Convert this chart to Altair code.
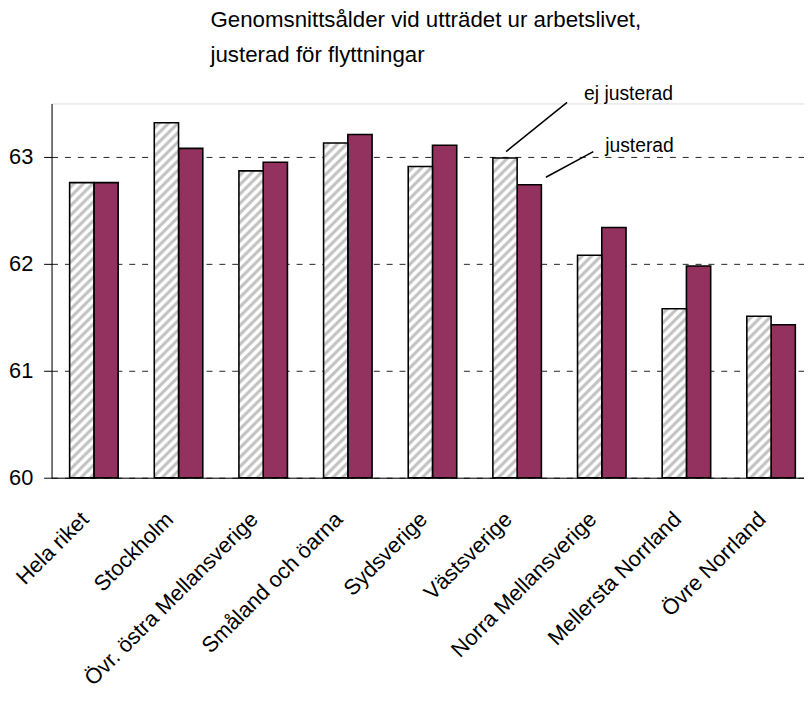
import math
import altair as alt
import pandas as pd

# ---------------- data ----------------
regions = [
    "Hela riket", "Stockholm", "Övr. östra Mellansverige", "Småland och öarna",
    "Sydsverige", "Västsverige", "Norra Mellansverige", "Mellersta Norrland",
    "Övre Norrland",
]
series_names = ["ej justerad", "justerad"]
ej_justerad = [62.76, 63.32, 62.87, 63.13, 62.91, 62.99, 62.08, 61.58, 61.51]
justerad = [62.76, 63.08, 62.95, 63.21, 63.11, 62.74, 62.34, 61.98, 61.43]
y_ticks = [60, 61, 62, 63]
y_domain = [60, 63.5]

title_lines = ["Genomsnittsålder vid utträdet ur arbetslivet,", "justerad för flyttningar"]

# annotation labels (anchored in data units: x = category index units, y = value units)
ann_text = ["ej justerad", "justerad"]
ann_text_x = [6.29, 6.54]
ann_text_y = [63.59, 63.10]
ann_line_x = [5.37, 5.84]
ann_line_y = [63.05, 62.81]
ann_line_x2 = [6.09, 6.40]
ann_line_y2 = [63.51, 63.05]

# ---------------- layout / style ----------------
FONT = "Liberation Sans"
PAD_L, PAD_T, PAD_R, PAD_B = 44, 93, 0, 212
W, H = 760, 378
X_RANGE = 769.5
P_IN = 0.427
MAROON = "#93315f"
HATCH_GRAY = "#c2c2c2"

rows = []
for r, a, b in zip(regions, ej_justerad, justerad):
    rows.append({"region": r, "series": series_names[0], "value": a})
    rows.append({"region": r, "series": series_names[1], "value": b})
df = pd.DataFrame(rows)

y_axis = alt.Axis(
    title=None, values=y_ticks, format="d", labelFontSize=22, labelFont=FONT,
    labelColor="#000", tickSize=8, tickColor="#000", domainColor="#000",
    labelPadding=11, grid=True, gridDash=[6, 7], gridColor="#222", gridWidth=1,
)
y_scale = alt.Scale(domain=y_domain, zero=False, nice=False)

x_enc = alt.X(
    "region:N",
    sort=regions,
    scale=alt.Scale(domain=regions, range=[0, X_RANGE], paddingInner=P_IN, paddingOuter=P_IN / 2),
    axis=alt.Axis(
        title=None, labelAngle=-45, labelAlign="right", labelBaseline="top",
        labelFontSize=22, labelFont=FONT, labelColor="#000", ticks=False,
        domainColor="#000", domainWidth=1, labelPadding=31, labelOffset=-16,
        grid=False, labelLimit=400,
    ),
)
xoff_enc = alt.XOffset("series:N", scale=alt.Scale(domain=series_names, paddingInner=0, paddingOuter=0))
y_enc = alt.Y("value:Q", scale=y_scale, axis=y_axis)

base = alt.Chart(df)

# maroon bars (adjusted)
just_layer = base.transform_filter(alt.datum.series == series_names[1]).mark_bar(
    fill=MAROON, stroke="#000", strokeWidth=1.6
).encode(x=x_enc, xOffset=xoff_enc, y=y_enc, y2=alt.datum(y_domain[0]))

# hatched bars (not adjusted): diagonal stripes via a per-bar linear gradient
step = X_RANGE / len(regions)
bar_w = step * (1 - P_IN) / 2
period = 9.5
# profile of one stripe period: (fraction, colour)
profile = [(0.0, "#ffffff"), (0.22, "#ffffff"), (0.45, HATCH_GRAY), (0.68, HATCH_GRAY), (0.92, "#ffffff")]


def hatch(value):
    h = (value - y_domain[0]) / (y_domain[1] - y_domain[0]) * H
    span = bar_w + h
    k = span / (bar_w ** 2 + h ** 2)
    tp = period / span
    stops = []
    t = 0.0
    while t < 1.0:
        for f, c in profile:
            o = t + f * tp
            if o <= 1.0:
                stops.append({"offset": round(o, 5), "color": c})
        t += tp
    return {"gradient": "linear", "x1": 0, "y1": 0, "x2": k * bar_w, "y2": k * h, "stops": stops}


ej_layers = []
for r, v in zip(regions, ej_justerad):
    ej_layers.append(
        base.transform_filter(
            (alt.datum.series == series_names[0]) & (alt.datum.region == r)
        ).mark_bar(fill=hatch(v), stroke="#000", strokeWidth=1.6)
        .encode(x=x_enc, xOffset=xoff_enc, y=y_enc, y2=alt.datum(y_domain[0]))
    )

bars = alt.layer(just_layer, *ej_layers)

# annotations
ann_lines = pd.DataFrame({"x": ann_line_x, "value": ann_line_y, "x2": ann_line_x2, "value2": ann_line_y2})
ann_txt = pd.DataFrame({"x": ann_text_x, "value": ann_text_y, "t": ann_text})
ax = alt.Scale(domain=[0, len(regions)], range=[0, X_RANGE])

lines_layer = alt.Chart(ann_lines).mark_rule(color="#000", strokeWidth=1.5).encode(
    x=alt.X("x:Q", scale=ax, axis=None),
    x2="x2:Q",
    y=alt.Y("value:Q", scale=y_scale, axis=y_axis),
    y2="value2:Q",
)
text_layer = alt.Chart(ann_txt).mark_text(
    align="left", baseline="middle", fontSize=19.5, font=FONT, color="#000"
).encode(
    x=alt.X("x:Q", scale=ax, axis=None),
    y=alt.Y("value:Q", scale=y_scale, axis=y_axis),
    text="t:N",
)
annotations = alt.layer(lines_layer, text_layer)

chart = alt.layer(bars, annotations).resolve_scale(x="independent").properties(
    width=W,
    height=H,
    autosize=alt.AutoSizeParams(type="none"),
    padding={"left": PAD_L, "top": PAD_T, "right": PAD_R, "bottom": PAD_B},
    title=alt.TitleParams(
        text=title_lines, anchor="start", dx=204, fontSize=22.5, font=FONT,
        fontWeight="normal", color="#000", lineHeight=35, offset=18,
    ),
).configure_view(stroke=None).configure(background="#ffffff")

chart.save("out.html", embed_options={"renderer": "svg", "actions": False})
